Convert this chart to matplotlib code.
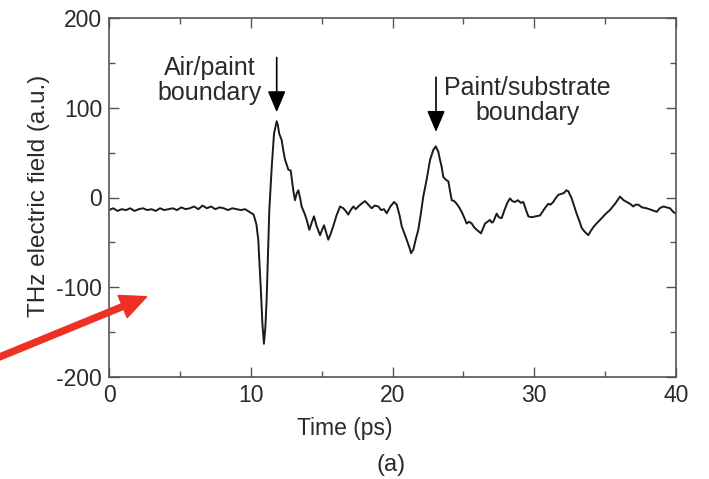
import matplotlib
matplotlib.use("Agg")
import matplotlib.pyplot as plt
from matplotlib.patches import FancyArrow
from matplotlib.transforms import IdentityTransform
from matplotlib.ticker import MultipleLocator

plt.rcParams['font.family'] = ['Liberation Sans', 'DejaVu Sans']
plt.rcParams['axes.unicode_minus'] = False

time_ps = [0.0, 0.3, 0.6, 0.9, 1.2, 1.5, 1.8, 2.1, 2.4, 2.7, 3.0, 3.3, 3.6, 3.9, 4.2, 4.5,
           4.8, 5.1, 5.4, 5.7, 6.0, 6.3, 6.6, 6.9, 7.2, 7.5, 7.8, 8.1, 8.4, 8.7, 9.0, 9.3,
           9.6, 9.9, 10.2, 10.4, 10.53, 10.7, 10.82, 10.93, 11.03, 11.12, 11.22, 11.31,
           11.48, 11.64, 11.83, 11.92, 12.01, 12.18, 12.3, 12.42, 12.55, 12.65, 12.82,
           13.0, 13.12, 13.25, 13.36, 13.5, 13.59, 13.8, 13.95, 14.13, 14.3, 14.46, 14.65,
           14.89, 15.03, 15.17, 15.3, 15.47, 15.65, 15.82, 16.05, 16.3, 16.53, 16.7, 16.88,
           17.05, 17.24, 17.4, 17.59, 17.8, 18.06, 18.3, 18.53, 18.75, 19.0, 19.2, 19.4,
           19.59, 19.85, 20.11, 20.3, 20.5, 20.65, 21.0, 21.2, 21.31, 21.47, 21.65, 21.82,
           22.0, 22.17, 22.41, 22.65, 22.88, 23.05, 23.23, 23.35, 23.47, 23.58, 23.75,
           23.94, 24.05, 24.18, 24.35, 24.53, 24.7, 24.88, 25.05, 25.23, 25.4, 25.59,
           25.75, 25.94, 26.1, 26.24, 26.4, 26.53, 26.7, 26.88, 27.0, 27.11, 27.35, 27.5,
           27.7, 27.9, 28.1, 28.29, 28.45, 28.64, 28.85, 29.05, 29.23, 29.4, 29.58, 29.8,
           30.1, 30.41, 30.7, 30.99, 31.15, 31.34, 31.5, 31.7, 31.9, 32.1, 32.25, 32.4,
           32.64, 32.99, 33.2, 33.35, 33.55, 33.81, 34.0, 34.17, 34.45, 34.76, 35.05,
           35.34, 35.7, 36.05, 36.3, 36.52, 36.75, 36.99, 37.15, 37.34, 37.6, 37.93, 38.3,
           38.64, 38.85, 39.1, 39.35, 39.58, 39.8, 40.0]

field_au = [-14, -12, -15, -13, -14, -12, -15, -13, -12, -14, -13, -15, -12, -14, -13, -12,
            -14, -11, -13, -12, -10, -13, -9, -12, -10, -13, -11, -12, -14, -12, -13, -14,
            -13, -16, -19, -30, -47, -99, -140, -163, -145, -114, -60, -14,
            34, 71, 85, 80, 71, 64, 52, 42, 36, 31, 30,
            8, -3, 5, 8, -2, -10, -18, -25, -36, -28, -21, -32,
            -42, -36, -31, -38, -47, -40, -32, -20, -10, -12, -15, -19,
            -14, -10, -13, -10, -7, -4, -8, -12, -9, -10, -14, -13,
            -17.6, -10, -5, -8, -20, -32, -47, -56, -62, -58, -46, -36,
            -18, 1, 20, 42, 53, 57, 51, 42, 34, 23, 20,
            18, 8, -3, -4, -7, -11, -16, -22, -29, -27, -29,
            -33, -36, -38, -40, -34, -29, -27, -25, -28, -27, -18, -22,
            -23, -14, -6, -1, -4, -5, -3, -6, -5, -13, -21, -22,
            -21, -20, -13, -7, -8, -5, -1, 3, 4, 5, 8, 7,
            -1, -18, -27, -34, -38, -42, -37, -33, -28, -23, -18,
            -14, -7, 1, -3, -5, -7, -10, -8, -8, -11, -12, -14,
            -16, -12, -10, -11, -12, -16, -18]

x_ticks = [0, 10, 20, 30, 40]
y_ticks = [-200, -100, 0, 100, 200]

TXT = '#2a2a2a'
SPINE = '#555555'

fig = plt.figure(figsize=(7.09, 4.79), dpi=100)
ax = fig.add_axes([109/709, 1 - 377/479, (676 - 109)/709, (377 - 18)/479])

ax.plot(time_ps, field_au, color='#1a1a1a', lw=1.4)
ax.set_xlim(0, 40)
ax.set_ylim(-200, 200)
ax.set_xticks(x_ticks)
ax.set_yticks(y_ticks)
ax.xaxis.set_minor_locator(MultipleLocator(5))
ax.yaxis.set_minor_locator(MultipleLocator(50))
ax.tick_params(which='both', direction='in', top=True, right=True, colors=SPINE,
               labelcolor=TXT, labelsize=16.5, width=1.0)
ax.tick_params(which='major', length=7, pad=5)
ax.tick_params(which='minor', length=4.5)
for s in ax.spines.values():
    s.set_color(SPINE)
    s.set_linewidth(1.2)

ax.set_xlabel('Time (ps)', fontsize=16.5, color=TXT)
ax.xaxis.set_label_coords(0.416, -0.112)
ax.set_ylabel('THz electric field (a.u.)', fontsize=17.5, color=TXT)
ax.yaxis.set_label_coords(-0.104, 0.505)

# annotations
ax.text(7.12, 130, 'Air/paint\nboundary', ha='center', va='center', fontsize=18,
        color=TXT, linespacing=1.05)
ax.annotate('', xy=(11.83, 95), xytext=(11.83, 156),
            arrowprops=dict(arrowstyle='-|>,head_length=1.3,head_width=0.55',
                            color='black', lw=1.2, shrinkA=0, shrinkB=0))
ax.text(29.52, 108.5, 'Paint/substrate\nboundary', ha='center', va='center', fontsize=18,
        color=TXT, linespacing=1.05)
ax.annotate('', xy=(23.07, 73), xytext=(23.07, 134),
            arrowprops=dict(arrowstyle='-|>,head_length=1.3,head_width=0.55',
                            color='black', lw=1.2, shrinkA=0, shrinkB=0))

fig.text(391/709, 1 - 465/479, '(a)', ha='center', va='center', fontsize=17, color=TXT)

# red pointer arrow (figure pixels)
arr = FancyArrow(-4, 120.6, 150.7, 61.7, width=6, head_width=24, head_length=26,
                 length_includes_head=True, color='#EE3124', transform=IdentityTransform(),
                 zorder=10)
fig.patches.append(arr)

fig.savefig('out.png', dpi=100)
